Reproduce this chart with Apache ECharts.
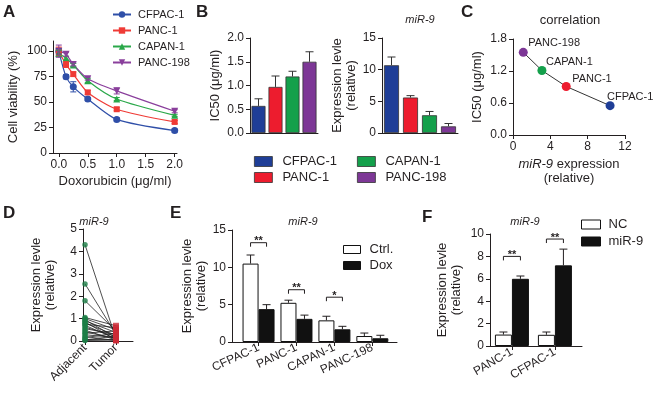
<!DOCTYPE html>
<html><head><meta charset="utf-8">
<script src="https://cdn.jsdelivr.net/npm/echarts@6/dist/echarts.min.js"></script>
<style>html,body{margin:0;padding:0;background:#fff}#c{width:656px;height:395px}</style>
</head><body><div id="c"></div>
<script>
// ---------------- DATA ----------------
// Panel A: viability curves
const cellLines = ['CFPAC-1', 'PANC-1', 'CAPAN-1', 'PANC-198'];
const doseX = [0, 0.125, 0.25, 0.5, 1, 2];
const viabCFPAC1 = [100, 75, 65, 53, 33, 22];
const viabPANC1 = [100, 87, 77.5, 59.5, 43, 30.5];
const viabCAPAN1 = [98, 93, 86.5, 71, 53, 37];
const viabPANC198 = [100, 97, 87, 73, 61, 41];
const errCFPAC1 = [3, 2, 5, 1.5, 1.5, 1.5];
const errPANC1 = [4, 3, 2, 2, 1.5, 1.5];
const errCAPAN1 = [3, 2, 1.5, 2, 1.5, 1];
const errPANC198 = [6, 2, 1.5, 1.5, 3, 1.5];
const aYTicks = [0, 25, 50, 75, 100];
const aXTicks = [0, 0.5, 1, 1.5, 2];

// Panel B
const ic50 = [0.57, 0.97, 1.19, 1.5];
const ic50Err = [0.15, 0.23, 0.11, 0.21];
const mir9Level = [10.7, 5.6, 2.8, 1.05];
const mir9LevelErr = [1.3, 0.3, 0.6, 0.45];
const bIcTicks = [0, 0.5, 1, 1.5, 2];
const bMirTicks = [0, 5, 10, 15];

// Panel C
const corrMir9 = [10.4, 5.7, 3.1, 1.1];
const corrIC50 = [0.55, 0.91, 1.21, 1.55];
const cXTicks = [0, 4, 8, 12];
const cYTicks = [0, 0.6, 1.2, 1.8];

// Panel D (paired samples)
const dGroups = ['Adjacent', 'Tumor'];
const dAdjacent = [4.3, 2.55, 1.8, 1.05, 1.0, 0.95, 0.9, 0.85, 0.8, 0.75, 0.7, 0.62, 0.55, 0.48, 0.4, 0.35, 0.28, 0.2, 0.15, 0.1, 0.05, 0.02];
const dTumor = [0.1, 0.3, 0.45, 0.68, 0.5, 0.15, 0.38, 0.05, 0.25, 0.6, 0.1, 0.2, 0.3, 0.05, 0.12, 0.45, 0.15, 0.02, 0.35, 0.08, 0.22, 0.04];
const dYTicks = [0, 1, 2, 3, 4, 5];

// Panel E
const eCats = ['CFPAC-1', 'PANC-1', 'CAPAN-1', 'PANC-198'];
const eCtrl = [10.5, 5.25, 2.9, 0.8];
const eCtrlErr = [1.15, 0.35, 0.55, 0.4];
const eDox = [4.4, 3.1, 1.7, 0.5];
const eDoxErr = [0.6, 0.5, 0.4, 0.4];
const eSigLevel = [13.3, 7.0, 6.0];
const eSigText = ['**', '**', '*'];
const eYTicks = [0, 5, 10, 15];

// Panel F
const fCats = ['PANC-1', 'CFPAC-1'];
const fNC = [1.02, 1.0];
const fNCErr = [0.23, 0.25];
const fMir9 = [6.0, 7.2];
const fMir9Err = [0.25, 1.45];
const fSigLevel = [8.0, 9.55];
const fSigText = ['**', '**'];
const fYTicks = [0, 2, 4, 6, 8, 10];

// ---------------- STYLE ----------------
const ink = '#231f20';
const FONT = 'Liberation Sans, Arial, Helvetica, sans-serif';
const lineColors = ['#2f4fa8', '#ef3b36', '#2aa84a', '#8a3f9c'];
const barColors = ['#1f3e97', '#ed1c2e', '#14a04b', '#7d3796'];
const aSymbols = ['circle', 'rect', 'triangle', 'triangle'];
const aRot = [0, 0, 0, 180];
const corrLabelOffset = {'CFPAC-1': [-3, -9], 'PANC-1': [6, -7], 'CAPAN-1': [4, -8], 'PANC-198': [5, -9]};

const viab = [viabCFPAC1, viabPANC1, viabCAPAN1, viabPANC198];
const viabErr = [errCFPAC1, errPANC1, errCAPAN1, errPANC198];

function valueAxis(grid, min, max, ticks, fmt, extra) {
  return Object.assign({
    type: 'value', gridIndex: grid, min: min, max: max,
    axisLine: {show: true, onZero: false, lineStyle: {color: ink, width: 1}},
    axisTick: {show: true, length: 4, customValues: ticks, lineStyle: {color: ink, width: 1}},
    axisLabel: {customValues: ticks, formatter: fmt, fontSize: 12, color: ink, margin: 6, fontFamily: FONT},
    splitLine: {show: false},
    nameTextStyle: {fontSize: 13, color: ink, lineHeight: 14, fontFamily: FONT}
  }, extra || {});
}
function catAxis(grid, cats) {
  return {type: 'category', gridIndex: grid, data: cats,
    axisLine: {show: true, lineStyle: {color: ink, width: 1}},
    axisTick: {show: false}, axisLabel: {show: false}, splitLine: {show: false}};
}
const yName2 = 'Expression levle\n(relative)';

function errorBars(name, ax, data, opts) {
  return {type: 'custom', name: name, xAxisIndex: ax, yAxisIndex: ax, data: data, z: 5, silent: true, clip: false,
    renderItem: function (params, api) {
      const x = api.value(0), v = api.value(1), e = api.value(2);
      const pt = api.coord([x, v]);
      const hi = api.coord([x, v + e]);
      const lo = opts.both ? api.coord([x, v - e]) : pt;
      const cx = pt[0] + (opts.dx || 0);
      const st = {stroke: opts.color || ink, lineWidth: opts.lw || 1};
      const ch = [
        {type: 'line', shape: {x1: cx, y1: lo[1], x2: cx, y2: hi[1]}, style: st},
        {type: 'line', shape: {x1: cx - opts.cap, y1: hi[1], x2: cx + opts.cap, y2: hi[1]}, style: st}
      ];
      if (opts.both) ch.push({type: 'line', shape: {x1: cx - opts.cap, y1: lo[1], x2: cx + opts.cap, y2: lo[1]}, style: st});
      return {type: 'group', children: ch};
    }};
}
function sigBrackets(name, ax, levels, texts, half) {
  return {type: 'custom', name: name, xAxisIndex: ax, yAxisIndex: ax, z: 6, silent: true, clip: false,
    data: levels.map(function (l, i) { return [i + 1, l]; }),
    renderItem: function (params, api) {
      const p = api.coord([api.value(0), api.value(1)]);
      const leg = 4;
      return {type: 'group', children: [
        {type: 'polyline', shape: {points: [[p[0] - half, p[1] + leg], [p[0] - half, p[1]], [p[0] + half, p[1]], [p[0] + half, p[1] + leg]]},
          style: {stroke: ink, fill: 'none', lineWidth: 1}},
        {type: 'text', x: p[0], y: p[1] + 4,
          style: {text: texts[params.dataIndex], fill: ink, font: 'bold 11px ' + FONT, align: 'center', verticalAlign: 'bottom'}}
      ]};
    }};
}

const series = [];
// A lines
cellLines.forEach(function (name, i) {
  series.push({type: 'line', name: name, xAxisIndex: 0, yAxisIndex: 0,
    data: doseX.map(function (x, j) { return [x, viab[i][j]]; }),
    smooth: 0.25, symbol: aSymbols[i], symbolRotate: aRot[i], symbolSize: i === 1 ? 6 : 7,
    lineStyle: {color: lineColors[i], width: 1.2}, itemStyle: {color: lineColors[i]}, z: 3});
});
cellLines.forEach(function (name, i) {
  series.push(errorBars('errA' + i, 0, doseX.map(function (x, j) { return [x, viab[i][j], viabErr[i][j]]; }),
    {both: true, cap: 3, color: lineColors[i], lw: 1}));
});
// B bars
series.push({type: 'bar', name: 'IC50', xAxisIndex: 1, yAxisIndex: 1, barWidth: 14,
  data: ic50.map(function (v, i) { return {value: v, itemStyle: {color: barColors[i]}}; }),
  itemStyle: {borderColor: '#333', borderWidth: 0.8}});
series.push(errorBars('errB1', 1, ic50.map(function (v, i) { return [i, v, ic50Err[i]]; }), {cap: 4, color: '#333'}));
series.push({type: 'bar', name: 'miR9level', xAxisIndex: 2, yAxisIndex: 2, barWidth: 15,
  data: mir9Level.map(function (v, i) { return {value: v, itemStyle: {color: barColors[i]}}; }),
  itemStyle: {borderColor: '#333', borderWidth: 0.8}});
series.push(errorBars('errB2', 2, mir9Level.map(function (v, i) { return [i, v, mir9LevelErr[i]]; }), {cap: 4, color: '#333'}));
// C correlation
series.push({type: 'line', name: 'corr', xAxisIndex: 3, yAxisIndex: 3, symbol: 'circle', symbolSize: 9,
  lineStyle: {color: '#333', width: 1}, z: 4,
  data: cellLines.map(function (name, i) {
    const off = corrLabelOffset[name];
    return {name: name, value: [corrMir9[i], corrIC50[i]], itemStyle: {color: barColors[i]},
      label: {position: [off[0] + 4.5, off[1] + 4.5]}};
  }),
  label: {show: true, formatter: '{b}', fontSize: 11, color: ink, fontFamily: FONT, align: 'left', verticalAlign: 'middle'}});
// D paired
series.push({type: 'lines', name: 'pairs', coordinateSystem: 'cartesian2d', xAxisIndex: 4, yAxisIndex: 4, z: 2,
  data: dAdjacent.map(function (a, i) { return {coords: [[1, a], [2, dTumor[i]]]}; }),
  lineStyle: {color: '#222', width: 0.8, opacity: 1}});
series.push({type: 'scatter', name: 'adj', xAxisIndex: 4, yAxisIndex: 4, symbolSize: 5.5, z: 3,
  itemStyle: {color: '#1b7d46'}, data: dAdjacent.map(function (v) { return [1, v]; })});
series.push({type: 'scatter', name: 'tum', xAxisIndex: 4, yAxisIndex: 4, symbol: 'rect', symbolSize: 6, z: 3,
  itemStyle: {color: '#cc2a36'}, data: dTumor.map(function (v) { return [2, v]; })});
// E
series.push({type: 'bar', name: 'Ctrl.', xAxisIndex: 5, yAxisIndex: 5, barWidth: 16, barGap: '0%',
  itemStyle: {color: '#fff', borderColor: '#111', borderWidth: 1},
  data: eCtrl.map(function (v, i) { return [i + 1, v]; })});
series.push({type: 'bar', name: 'Dox', xAxisIndex: 5, yAxisIndex: 5, barWidth: 16, barGap: '0%',
  itemStyle: {color: '#111', borderColor: '#111', borderWidth: 1},
  data: eDox.map(function (v, i) { return [i + 1, v]; })});
series.push(errorBars('errE1', 5, eCtrl.map(function (v, i) { return [i + 1, v, eCtrlErr[i]]; }), {cap: 4, dx: -8}));
series.push(errorBars('errE2', 5, eDox.map(function (v, i) { return [i + 1, v, eDoxErr[i]]; }), {cap: 4, dx: 8}));
series.push(sigBrackets('sigE', 5, eSigLevel, eSigText, 8));
// F
series.push({type: 'bar', name: 'NC', xAxisIndex: 6, yAxisIndex: 6, barWidth: 17, barGap: '0%',
  itemStyle: {color: '#fff', borderColor: '#111', borderWidth: 1},
  data: fNC.map(function (v, i) { return [i + 1, v]; })});
series.push({type: 'bar', name: 'miR-9', xAxisIndex: 6, yAxisIndex: 6, barWidth: 17, barGap: '0%',
  itemStyle: {color: '#111', borderColor: '#111', borderWidth: 1},
  data: fMir9.map(function (v, i) { return [i + 1, v]; })});
series.push(errorBars('errF1', 6, fNC.map(function (v, i) { return [i + 1, v, fNCErr[i]]; }), {cap: 4, dx: -8.5}));
series.push(errorBars('errF2', 6, fMir9.map(function (v, i) { return [i + 1, v, fMir9Err[i]]; }), {cap: 4, dx: 8.5}));
series.push(sigBrackets('sigF', 6, fSigLevel, fSigText, 8.5));

function rectLegendItem(name, color) {
  return {name: name, icon: 'rect', itemStyle: {color: color, borderColor: '#333', borderWidth: 0.8}};
}
const legendBase = {orient: 'vertical', padding: 0, selectedMode: false};

function catIdx(list) { return list.map(function (_, i) { return i + 1; }); }
function catFmt(list) { return function (v) { return list[Math.round(v) - 1]; }; }

const option = {
  animation: false,
  textStyle: {fontFamily: FONT, color: ink},
  grid: [
    {left: 53, top: 41, width: 124, height: 112},
    {left: 250, top: 38, width: 68, height: 95},
    {left: 382, top: 38, width: 76, height: 95},
    {left: 513, top: 39, width: 112, height: 96},
    {left: 83, top: 229, width: 50, height: 112},
    {left: 232, top: 230, width: 165, height: 112},
    {left: 490, top: 234, width: 92, height: 112}
  ],
  xAxis: [
    valueAxis(0, -0.1, 2.04, aXTicks, function (v) { return v.toFixed(1); },
      {name: 'Doxorubicin (\u03bcg/ml)', nameLocation: 'middle', nameGap: 21}),
    catAxis(1, cellLines),
    catAxis(2, cellLines),
    valueAxis(3, 0, 12, cXTicks, function (v) { return String(v); },
      {name: '{i|miR-9} expression\n(relative)', nameLocation: 'middle', nameGap: 22,
        nameTextStyle: {fontSize: 13, color: ink, lineHeight: 14, fontFamily: FONT,
          rich: {i: {fontStyle: 'italic', fontSize: 13, color: ink, lineHeight: 14, fontFamily: FONT}}}}),
    valueAxis(4, 0.935, 2.55, catIdx(dGroups), catFmt(dGroups)),
    valueAxis(5, 0.3, 4.65, catIdx(eCats), catFmt(eCats)),
    valueAxis(6, 0.49, 2.63, catIdx(fCats), catFmt(fCats))
  ],
  yAxis: [
    valueAxis(0, 0, 110, aYTicks, function (v) { return String(v); },
      {name: 'Cell viability (%)', nameLocation: 'middle', nameGap: 33}),
    valueAxis(1, 0, 2, bIcTicks, function (v) { return v.toFixed(1); },
      {name: 'IC50 (\u03bcg/ml)', nameLocation: 'middle', nameGap: 28}),
    valueAxis(2, 0, 15, bMirTicks, function (v) { return String(v); },
      {name: yName2, nameLocation: 'middle', nameGap: 21}),
    valueAxis(3, 0, 1.8, cYTicks, function (v) { return v.toFixed(1); },
      {name: 'IC50 (\u03bcg/ml)', nameLocation: 'middle', nameGap: 29}),
    valueAxis(4, 0, 5, dYTicks, function (v) { return String(v); },
      {name: yName2, nameLocation: 'middle', nameGap: 26}),
    valueAxis(5, 0, 15, eYTicks, function (v) { return String(v); },
      {name: yName2, nameLocation: 'middle', nameGap: 23}),
    valueAxis(6, 0, 10, fYTicks, function (v) { return String(v); },
      {name: yName2, nameLocation: 'middle', nameGap: 27})
  ],
  legend: [
    Object.assign({}, legendBase, {data: cellLines, left: 112, top: 9, itemWidth: 18, itemHeight: 8, itemGap: 5,
      textStyle: {fontSize: 11, color: ink, fontFamily: FONT, padding: [0, 0, 0, 2]}}),
    Object.assign({}, legendBase, {data: [rectLegendItem(cellLines[0], barColors[0]), rectLegendItem(cellLines[1], barColors[1])],
      left: 254, top: 155, itemWidth: 18, itemHeight: 10, itemGap: 3,
      textStyle: {fontSize: 13, color: ink, fontFamily: FONT, padding: [0, 0, 0, 5]}}),
    Object.assign({}, legendBase, {data: [rectLegendItem(cellLines[2], barColors[2]), rectLegendItem(cellLines[3], barColors[3])],
      left: 357, top: 155, itemWidth: 18, itemHeight: 10, itemGap: 3,
      textStyle: {fontSize: 13, color: ink, fontFamily: FONT, padding: [0, 0, 0, 5]}}),
    Object.assign({}, legendBase, {data: [
        {name: 'Ctrl.', icon: 'rect', itemStyle: {color: '#fff', borderColor: '#111', borderWidth: 1}},
        {name: 'Dox', icon: 'rect', itemStyle: {color: '#111', borderColor: '#111', borderWidth: 1}}],
      left: 343, top: 243, itemWidth: 17, itemHeight: 8, itemGap: 3,
      textStyle: {fontSize: 13, color: ink, fontFamily: FONT, padding: [0, 0, 0, 4]}}),
    Object.assign({}, legendBase, {data: [
        {name: 'NC', icon: 'rect', itemStyle: {color: '#fff', borderColor: '#111', borderWidth: 1}},
        {name: 'miR-9', icon: 'rect', itemStyle: {color: '#111', borderColor: '#111', borderWidth: 1}}],
      left: 581, top: 218, itemWidth: 19, itemHeight: 9, itemGap: 4,
      textStyle: {fontSize: 13, color: ink, fontFamily: FONT, padding: [0, 0, 0, 3]}})
  ],
  graphic: [
    {type: 'text', x: 3, y: 4, style: {text: 'A', font: 'bold 17px ' + FONT, fill: ink}},
    {type: 'text', x: 196, y: 4, style: {text: 'B', font: 'bold 17px ' + FONT, fill: ink}},
    {type: 'text', x: 461, y: 4, style: {text: 'C', font: 'bold 17px ' + FONT, fill: ink}},
    {type: 'text', x: 3, y: 205, style: {text: 'D', font: 'bold 17px ' + FONT, fill: ink}},
    {type: 'text', x: 170, y: 205, style: {text: 'E', font: 'bold 17px ' + FONT, fill: ink}},
    {type: 'text', x: 422, y: 209, style: {text: 'F', font: 'bold 17px ' + FONT, fill: ink}},
    {type: 'text', x: 420, y: 20, style: {text: 'miR-9', font: 'italic 11px ' + FONT, fill: ink, align: 'center', verticalAlign: 'middle'}},
    {type: 'text', x: 570, y: 20, style: {text: 'correlation', font: '13px ' + FONT, fill: ink, align: 'center', verticalAlign: 'middle'}},
    {type: 'text', x: 94, y: 222, style: {text: 'miR-9', font: 'italic 11px ' + FONT, fill: ink, align: 'center', verticalAlign: 'middle'}},
    {type: 'text', x: 303, y: 222, style: {text: 'miR-9', font: 'italic 11px ' + FONT, fill: ink, align: 'center', verticalAlign: 'middle'}},
    {type: 'text', x: 525, y: 222, style: {text: 'miR-9', font: 'italic 11px ' + FONT, fill: ink, align: 'center', verticalAlign: 'middle'}}
  ],
  series: series
};
// rotated category labels
option.xAxis[4].axisLabel.rotate = 45;
option.xAxis[5].axisLabel.rotate = 25;
option.xAxis[6].axisLabel.rotate = 30;
option.xAxis[4].axisLabel.margin = 5;
option.xAxis[5].axisLabel.margin = 5;
option.xAxis[6].axisLabel.margin = 5;

const chart = echarts.init(document.getElementById('c'), null, {renderer: 'canvas'});
chart.setOption(option);
</script>
</body></html>
